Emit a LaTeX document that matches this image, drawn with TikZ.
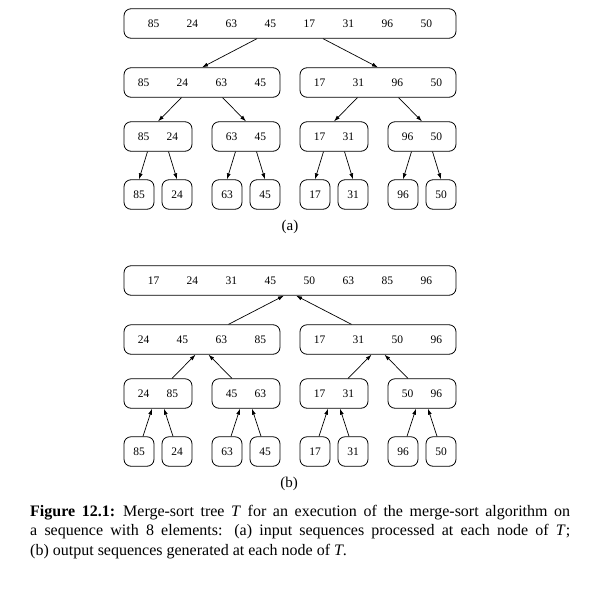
\documentclass[tikz,border=0pt]{standalone}
\usepackage{fontspec}
\setmainfont{Liberation Serif}
\usetikzlibrary{arrows.meta}
\newcommand\seqcellwide[1]{\makebox[39pt]{#1}}
\newcommand\seqcellnarrow[1]{\makebox[29pt]{#1}}
\tikzset{
  seqbox/.style={draw, line width=0.8pt, rounded corners=7pt, minimum height=29.5pt, inner sep=0pt, font=\fontsize{11.5}{13}\selectfont},
  topbox/.style={seqbox, minimum width=332pt},
  midbox/.style={seqbox, minimum width=156pt},
  lowbox/.style={seqbox, minimum width=68pt},
  leafbox/.style={seqbox, minimum width=30pt},
  arr/.style={line width=0.7pt, -{Latex[length=6pt,width=4pt]}},
  sublabel/.style={font=\fontsize{15}{17}\selectfont, inner sep=0pt},
}
\begin{document}
\begin{tikzpicture}[x=1pt, y=-1pt]
\useasboundingbox (0,0) rectangle (603,598);
% ---------- (a) ----------
\node[topbox] (a0) at (290,23.5) {\seqcellwide{85}\seqcellwide{24}\seqcellwide{63}\seqcellwide{45}\seqcellwide{17}\seqcellwide{31}\seqcellwide{96}\seqcellwide{50}};
\node[midbox] (a1) at (202,82.5) {\seqcellwide{85}\seqcellwide{24}\seqcellwide{63}\seqcellwide{45}};
\node[midbox] (a2) at (378,82.5) {\seqcellwide{17}\seqcellwide{31}\seqcellwide{96}\seqcellwide{50}};
\node[lowbox] (a3) at (158,136.5) {\seqcellnarrow{85}\seqcellnarrow{24}};
\node[lowbox] (a4) at (246,136.5) {\seqcellnarrow{63}\seqcellnarrow{45}};
\node[lowbox] (a5) at (334,136.5) {\seqcellnarrow{17}\seqcellnarrow{31}};
\node[lowbox] (a6) at (422,136.5) {\seqcellnarrow{96}\seqcellnarrow{50}};
\node[leafbox] (a7) at (139,194.5) {85};
\node[leafbox] (a8) at (177,194.5) {24};
\node[leafbox] (a9) at (227,194.5) {63};
\node[leafbox] (a10) at (265,194.5) {45};
\node[leafbox] (a11) at (315,194.5) {17};
\node[leafbox] (a12) at (353,194.5) {31};
\node[leafbox] (a13) at (403,194.5) {96};
\node[leafbox] (a14) at (441,194.5) {50};
\draw[arr] ([xshift=-33pt]a0.south) -- (a1.north);
\draw[arr] ([xshift=33pt]a0.south) -- (a2.north);
\draw[arr] ([xshift=-20.5pt]a1.south) -- (a3.north);
\draw[arr] ([xshift=20.5pt]a1.south) -- (a4.north);
\draw[arr] ([xshift=-20.5pt]a2.south) -- (a5.north);
\draw[arr] ([xshift=20.5pt]a2.south) -- (a6.north);
\draw[arr] ([xshift=-10.5pt]a3.south) -- (a7.north);
\draw[arr] ([xshift=10.5pt]a3.south) -- (a8.north);
\draw[arr] ([xshift=-10.5pt]a4.south) -- (a9.north);
\draw[arr] ([xshift=10.5pt]a4.south) -- (a10.north);
\draw[arr] ([xshift=-10.5pt]a5.south) -- (a11.north);
\draw[arr] ([xshift=10.5pt]a5.south) -- (a12.north);
\draw[arr] ([xshift=-10.5pt]a6.south) -- (a13.north);
\draw[arr] ([xshift=10.5pt]a6.south) -- (a14.north);
\node[sublabel] (la) at (290,227) {(a)};
% ---------- (b) ----------
\node[topbox] (b0) at (290,280.5) {\seqcellwide{17}\seqcellwide{24}\seqcellwide{31}\seqcellwide{45}\seqcellwide{50}\seqcellwide{63}\seqcellwide{85}\seqcellwide{96}};
\node[midbox] (b1) at (202,339.5) {\seqcellwide{24}\seqcellwide{45}\seqcellwide{63}\seqcellwide{85}};
\node[midbox] (b2) at (378,339.5) {\seqcellwide{17}\seqcellwide{31}\seqcellwide{50}\seqcellwide{96}};
\node[lowbox] (b3) at (158,393.5) {\seqcellnarrow{24}\seqcellnarrow{85}};
\node[lowbox] (b4) at (246,393.5) {\seqcellnarrow{45}\seqcellnarrow{63}};
\node[lowbox] (b5) at (334,393.5) {\seqcellnarrow{17}\seqcellnarrow{31}};
\node[lowbox] (b6) at (422,393.5) {\seqcellnarrow{50}\seqcellnarrow{96}};
\node[leafbox] (b7) at (139,451.5) {85};
\node[leafbox] (b8) at (177,451.5) {24};
\node[leafbox] (b9) at (227,451.5) {63};
\node[leafbox] (b10) at (265,451.5) {45};
\node[leafbox] (b11) at (315,451.5) {17};
\node[leafbox] (b12) at (353,451.5) {31};
\node[leafbox] (b13) at (403,451.5) {96};
\node[leafbox] (b14) at (441,451.5) {50};
\draw[arr] ([xshift=26.5pt]b1.north) -- ([xshift=-6pt]b0.south);
\draw[arr] ([xshift=-26.5pt]b2.north) -- ([xshift=6pt]b0.south);
\draw[arr] ([xshift=14pt]b3.north) -- ([xshift=-6.5pt]b1.south);
\draw[arr] ([xshift=-14pt]b4.north) -- ([xshift=6.5pt]b1.south);
\draw[arr] ([xshift=14pt]b5.north) -- ([xshift=-6.5pt]b2.south);
\draw[arr] ([xshift=-14pt]b6.north) -- ([xshift=6.5pt]b2.south);
\draw[arr] ([xshift=4pt]b7.north) -- ([xshift=-6pt]b3.south);
\draw[arr] ([xshift=-4pt]b8.north) -- ([xshift=6pt]b3.south);
\draw[arr] ([xshift=4pt]b9.north) -- ([xshift=-6pt]b4.south);
\draw[arr] ([xshift=-4pt]b10.north) -- ([xshift=6pt]b4.south);
\draw[arr] ([xshift=4pt]b11.north) -- ([xshift=-6pt]b5.south);
\draw[arr] ([xshift=-4pt]b12.north) -- ([xshift=6pt]b5.south);
\draw[arr] ([xshift=4pt]b13.north) -- ([xshift=-6pt]b6.south);
\draw[arr] ([xshift=-4pt]b14.north) -- ([xshift=6pt]b6.south);
\node[sublabel] (lb) at (289,484) {(b)};
% ---------- caption ----------
\node[anchor=base west, inner sep=0pt, text width=540pt, align=justify,
      font=\fontsize{16}{19.7}\selectfont] (cap) at (30,516)
  {\hyphenpenalty=10000\exhyphenpenalty=10000
   \textbf{Figure 12.1:}\enspace Merge-sort tree \textit{T} for an execution of the merge-sort algorithm on\linebreak
   a sequence with 8 elements: (a) input sequences processed at each node of \textit{T};\linebreak
   (b) output sequences generated at each node of \textit{T}.};
\end{tikzpicture}
\end{document}
